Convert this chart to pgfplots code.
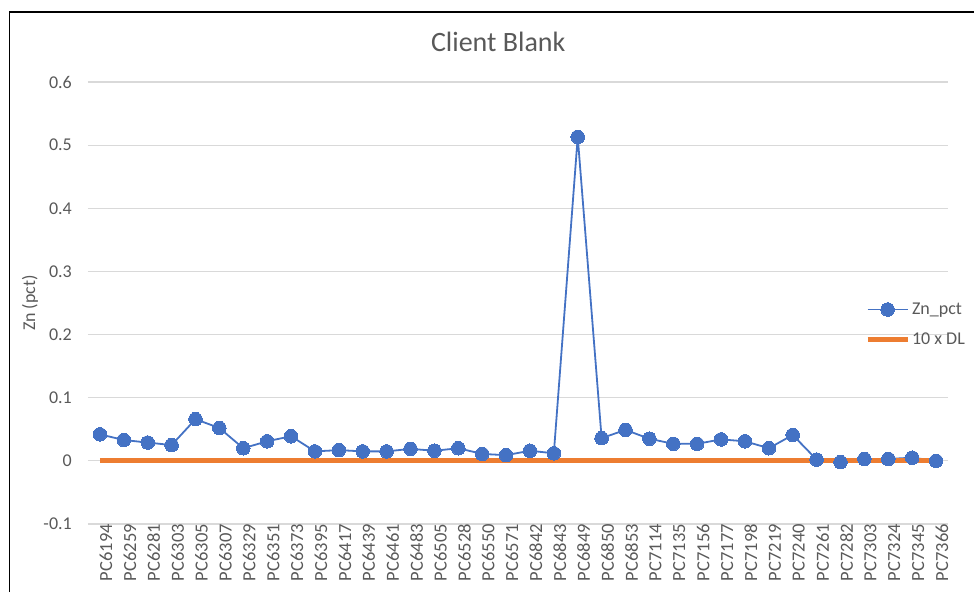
\documentclass[border=0pt]{standalone}
\usepackage{pgfplots}
\pgfplotsset{compat=1.18}
\usepackage{fontspec}
\setmainfont{Carlito}
\definecolor{zblue}{HTML}{4472C4}
\definecolor{dorange}{HTML}{ED7D31}
\definecolor{gridgray}{HTML}{D9D9D9}
\definecolor{txtgray}{HTML}{595959}
\begin{document}
\begin{tikzpicture}[x=1pt,y=1pt]
\useasboundingbox (0,0) rectangle (974,592);
\draw[black, line width=1.6pt] (9.5,0) -- (9.5,580) -- (974,580);
\begin{axis}[
  at={(88pt,68pt)}, anchor=south west,
  scale only axis, width=860pt, height=442pt,
  xmin=-0.5, xmax=35.5, ymin=-0.1, ymax=0.6,
  ytick={-0.1,0,0.1,0.2,0.3,0.4,0.5,0.6},
  xtick={0,...,35},
  xticklabels={PC6194,PC6259,PC6281,PC6303,PC6305,PC6307,PC6329,PC6351,PC6373,PC6395,PC6417,PC6439,PC6461,PC6483,PC6505,PC6528,PC6550,PC6571,PC6842,PC6843,PC6849,PC6850,PC6853,PC7114,PC7135,PC7156,PC7177,PC7198,PC7219,PC7240,PC7261,PC7282,PC7303,PC7324,PC7345,PC7366},
  xticklabel style={rotate=90, anchor=east, font=\fontsize{18.5}{20}\selectfont, text=txtgray, inner sep=0pt, yshift=-6pt},
  yticklabel style={font=\fontsize{18}{20}\selectfont, text=txtgray, inner sep=0pt, xshift=-16pt, anchor=east},
  /pgf/number format/assume math mode=true,
  yticklabel={\pgfmathprintnumber[fixed,precision=1]{\tick}},
  major tick length=0pt,
  axis line style={draw=none},
  ymajorgrids, grid style={gridgray, line width=1.2pt},
  title={Client Blank},
  title style={at={(axis description cs:0.477,1.077)}, anchor=center, font=\fontsize{28}{30}\selectfont, text=txtgray},
  ylabel={Zn (pct)},
  ylabel style={at={(axis description cs:-0.0674,0.5)}, anchor=center, font=\fontsize{18}{20}\selectfont, text=txtgray},
  legend style={at={(axis description cs:0.9035,0.505)}, anchor=north west, draw=none, fill=none, inner sep=0pt, font=\fontsize{18}{20}\selectfont, text=txtgray, row sep=13pt, cells={anchor=west}},
  legend image code/.code={\draw[mark repeat=2,mark phase=2] plot coordinates {(0pt,0pt)(20pt,0pt)(40pt,0pt)};},
  clip=false,
]
\addplot[zblue, line width=1.8pt, mark=*, mark size=6.8pt, mark options={fill=zblue, draw=zblue, line width=0pt}] coordinates {
(0,0.042) (1,0.033) (2,0.029) (3,0.025) (4,0.066) (5,0.052) (6,0.020) (7,0.031) (8,0.039) (9,0.015)
(10,0.017) (11,0.015) (12,0.015) (13,0.019) (14,0.016) (15,0.020) (16,0.011) (17,0.009) (18,0.016) (19,0.012)
(20,0.513) (21,0.036) (22,0.049) (23,0.035) (24,0.027) (25,0.027) (26,0.034) (27,0.031) (28,0.020) (29,0.041)
(30,0.002) (31,-0.002) (32,0.003) (33,0.003) (34,0.005) (35,0.000)
};
\addlegendentry{Zn\_pct}
\addplot[dorange, line width=4.8pt] coordinates {
(0,0) (1,0) (2,0) (3,0) (4,0) (5,0) (6,0) (7,0) (8,0) (9,0)
(10,0) (11,0) (12,0) (13,0) (14,0) (15,0) (16,0) (17,0) (18,0) (19,0)
(20,0) (21,0) (22,0) (23,0) (24,0) (25,0) (26,0) (27,0) (28,0) (29,0)
(30,0) (31,0) (32,0) (33,0) (34,0) (35,0)
};
\addlegendentry{10 x DL}
\end{axis}
\end{tikzpicture}
\end{document}
